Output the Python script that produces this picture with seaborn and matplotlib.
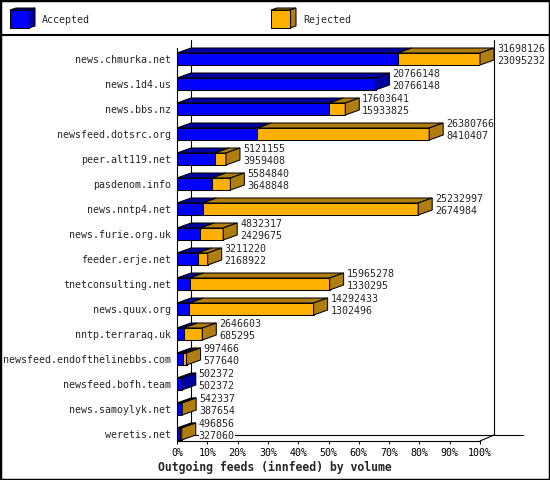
import matplotlib
matplotlib.use("Agg")
import matplotlib.pyplot as plt
from matplotlib.patches import Polygon, Rectangle
from matplotlib.lines import Line2D
import seaborn as sns
import pandas as pd

hosts = ["news.chmurka.net", "news.1d4.us", "news.bbs.nz", "newsfeed.dotsrc.org",
         "peer.alt119.net", "pasdenom.info", "news.nntp4.net", "news.furie.org.uk",
         "feeder.erje.net", "tnetconsulting.net", "news.quux.org", "nntp.terraraq.uk",
         "newsfeed.endofthelinebbs.com", "newsfeed.bofh.team", "news.samoylyk.net",
         "weretis.net"]
total = [31698126, 20766148, 17603641, 26380766, 5121155, 5584840, 25232997, 4832317,
         3211220, 15965278, 14292433, 2646603, 997466, 502372, 542337, 496856]
accepted = [23095232, 20766148, 15933825, 8410407, 3959408, 3648848, 2674984, 2429675,
            2168922, 1330295, 1302496, 685295, 577640, 502372, 387654, 327060]
series = ["Accepted", "Rejected"]
xticks = list(range(0, 101, 10))

BLUE, BLUE_DARK = "#0000ff", "#0000a0"
ORANGE, ORANGE_DARK = "#ffb000", "#b07d10"

W, H = 550, 480
PX = 303 / 100.0        # pixels per percent
ROW = 25.0              # pixels per row
BAR_H = 12 / ROW
DX, DY = 14 / PX, 5 / ROW          # bar depth
FDX, FDY = 14 / PX, 6 / ROW        # frame depth

sns.set_style("white")
plt.rcParams["font.family"] = ["DejaVu Sans Mono"]
FS = 7.2

mx = max(total)
df = pd.DataFrame({
    "host": hosts,
    "tot_pct": [t / mx * 100 for t in total],
    "acc_pct": [a / mx * 100 for a in accepted],
})

fig = plt.figure(figsize=(W / 100, H / 100), dpi=100)
ax = fig.add_axes([177 / W, 1 - 441 / H, 303 / W, 400 / H])

y_top_lim = -(59 - 41) / ROW
y_bot_lim = (441 - 59) / ROW
y_back_bot = y_bot_lim - FDY
y_back_top = y_top_lim - 1 / ROW

# back wall / floor
kw = dict(color="black", lw=0.8, clip_on=False, zorder=0.5)
ax.plot([FDX, FDX], [y_back_bot, y_back_top], **kw)
ax.plot([100 + FDX, 100 + FDX], [y_back_bot, y_back_top], **kw)
ax.plot([FDX, (523 - 177) / PX], [y_back_bot, y_back_bot], **kw)
ax.plot([100, 100 + FDX], [y_bot_lim, y_back_bot], **kw)

sns.barplot(data=df, x="tot_pct", y="host", color=ORANGE, saturation=1, width=BAR_H,
            edgecolor="black", linewidth=0.75, ax=ax, zorder=2)
sns.barplot(data=df, x="acc_pct", y="host", color=BLUE, saturation=1, width=BAR_H,
            edgecolor="black", linewidth=0.75, ax=ax, zorder=2)

pk = dict(edgecolor="black", linewidth=0.75, zorder=2, clip_on=False)
for i, (a, t) in enumerate(zip(df["acc_pct"], df["tot_pct"])):
    yt, yb = i - BAR_H / 2, i + BAR_H / 2
    ax.add_patch(Polygon([(0, yt), (a, yt), (a + DX, yt - DY), (DX, yt - DY)],
                         facecolor=BLUE_DARK, **pk))
    side = BLUE_DARK
    if t > a:
        ax.add_patch(Polygon([(a, yt), (t, yt), (t + DX, yt - DY), (a + DX, yt - DY)],
                             facecolor=ORANGE_DARK, **pk))
        side = ORANGE_DARK
    ax.add_patch(Polygon([(t, yt), (t + DX, yt - DY), (t + DX, yb - DY), (t, yb)],
                         facecolor=side, **pk))
    ax.annotate(f"{total[i]}\n{accepted[i]}", xy=(t, i), xytext=(17 * 0.72, 4 * 0.72),
                textcoords="offset points", ha="left", va="center", fontsize=FS,
                linespacing=1.15, zorder=3, annotation_clip=False,
                bbox=dict(boxstyle="square,pad=0", fc="white", ec="none"))

ax.set_xlim(0, 100)
ax.set_ylim(y_bot_lim, y_top_lim)
ax.set_xticks(xticks)
ax.set_xticklabels([f"{v}%" for v in xticks], fontsize=FS)
ax.set_xlabel("")
ax.set_ylabel("")
ax.tick_params(axis="x", length=3 * 0.72, width=0.75, pad=3, direction="out",
               bottom=True, colors="black")
ax.tick_params(axis="y", length=0, pad=4, labelsize=FS)
for s in ["top", "right"]:
    ax.spines[s].set_visible(False)
ax.spines["left"].set_bounds(y_bot_lim, y_top_lim + 7 / ROW)
ax.spines["bottom"].set_bounds(0, 100)
for s in ["left", "bottom"]:
    ax.spines[s].set_color("black")
    ax.spines[s].set_linewidth(0.8)
ax.patch.set_alpha(0)

fig.text(275 / W, 1 - 467 / H, "Outgoing feeds (innfeed) by volume", ha="center",
         va="center", fontsize=8.3, fontweight="bold")

# legend strip
lax = fig.add_axes([0, 1 - 35 / H, 1, 35 / H])
lax.set_xlim(0, W)
lax.set_ylim(35, 0)
lax.axis("off")
for name, x0, fc, dc in [(series[0], 10, BLUE, BLUE_DARK), (series[1], 271, ORANGE, ORANGE_DARK)]:
    x1, y0, y1, d, e = x0 + 19, 10, 28, 6, 2
    lax.add_patch(Polygon([(x0, y0), (x1, y0), (x1 + d, y0 - e), (x0 + d, y0 - e)],
                          facecolor=dc, edgecolor="black", lw=0.75))
    lax.add_patch(Polygon([(x1, y0), (x1 + d, y0 - e), (x1 + d, y1 - e), (x1, y1)],
                          facecolor=dc, edgecolor="black", lw=0.75))
    lax.add_patch(Rectangle((x0, y0), x1 - x0, y1 - y0, facecolor=fc, edgecolor="black", lw=0.75))
    lax.text(x0 + 32, 20, name, ha="left", va="center", fontsize=FS)

fig.add_artist(Line2D([0, 1], [1 - 35 / H] * 2, color="black", lw=1.5))
fig.add_artist(Rectangle((0, 0), 1, 1, transform=fig.transFigure, fill=False,
                         edgecolor="black", lw=2.5))

fig.savefig("out.png", dpi=100, facecolor="white")
